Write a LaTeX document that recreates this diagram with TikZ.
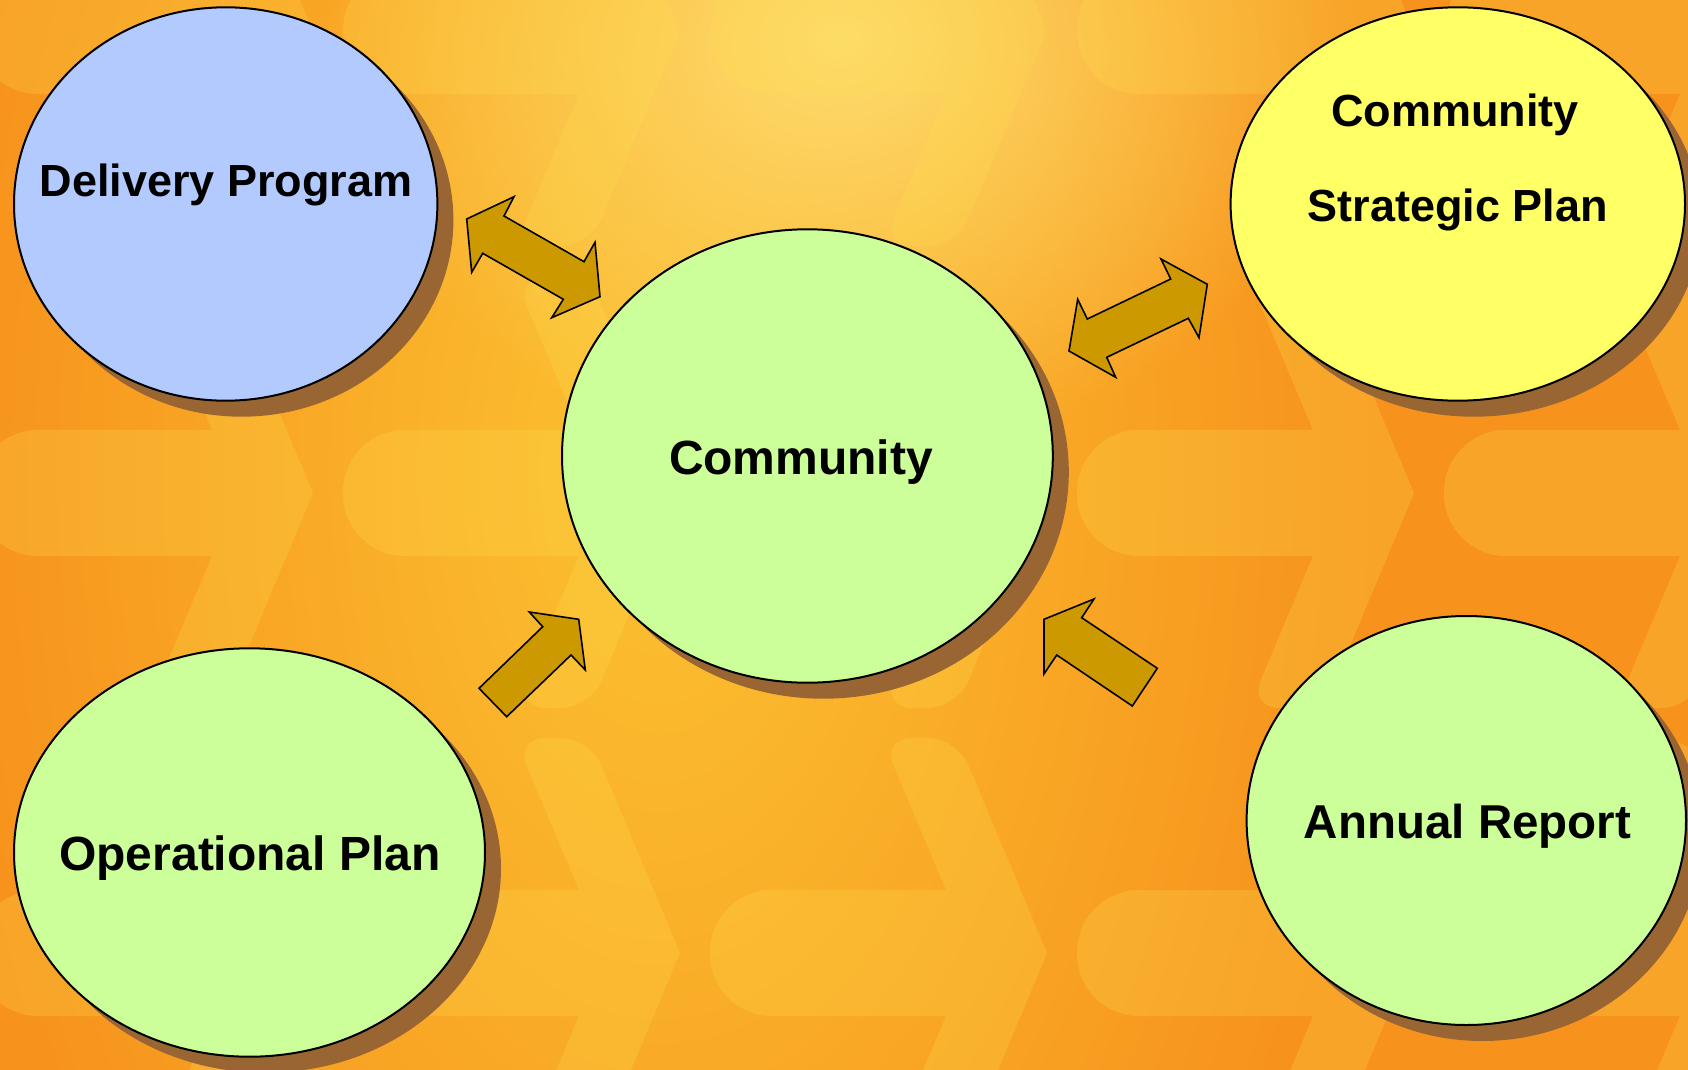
\documentclass[tikz,border=0pt]{standalone}
\usepackage{fontspec}
\setmainfont{Liberation Sans}
\usetikzlibrary{shapes.geometric,shadows,fadings}
\definecolor{bgbase}{HTML}{F7921C}
\definecolor{glowa}{HTML}{FCC232}
\definecolor{glowb}{HTML}{FEDC6E}
\definecolor{patc}{HTML}{FFE050}
\definecolor{blueb}{HTML}{B3CAFF}
\definecolor{greenb}{HTML}{CCFF99}
\definecolor{yellowb}{HTML}{FFFF66}
\definecolor{shadowc}{HTML}{996633}
\definecolor{arrowc}{HTML}{CC9900}
\tikzfading[name=glowfade, inner color=transparent!0, outer color=transparent!100]
\newcommand{\chevunit}[2]{%
  \fill[patc, fill opacity=0.24] ({#1-300},{#2-63}) -- ({#1-101},{#2-63})
    [rounded corners=30] -- ({#1-165},{#2-215}) -- ({#1-90},{#2-215})
    [sharp corners] -- (#1,#2)
    [rounded corners=30] -- ({#1-90},{#2+215}) -- ({#1-165},{#2+215})
    [sharp corners] -- ({#1-101},{#2+63})
    [rounded corners=62] -- ({#1-337},{#2+63}) -- ({#1-337},{#2-63}) -- cycle;}
\tikzset{
  blob/.style={ellipse, draw=black, line width=2pt, inner sep=0pt,
    drop shadow={shadow xshift=16pt, shadow yshift=-16pt, fill=shadowc, opacity=1}},
  lbl/.style={anchor=base, inner sep=0pt, font=\fontsize{45}{54}\selectfont\bfseries},
  biglbl/.style={lbl, font=\fontsize{48}{58}\selectfont\bfseries},
  blockarrow/.style={fill=arrowc, draw=black, line width=1.6pt, line join=miter}
}
\begin{document}
\begin{tikzpicture}[x=1pt, y=-1pt]
\useasboundingbox (0,0) rectangle (1688,1070);
% background
\begin{scope}
\clip (0,0) rectangle (1688,1070);
\fill[bgbase] (0,0) rectangle (1688,1070);
\fill[glowa, path fading=glowfade] (660,470) ellipse [x radius=720pt, y radius=1250pt];
\fill[glowb, path fading=glowfade] (840,40) ellipse [x radius=520pt, y radius=420pt];
\foreach \yc in {31,493,953}{
  \foreach \T in {-54,313,680,1047,1414,1781}{
    \chevunit{\T}{\yc}
  }
}
\end{scope}
% ellipses
\node[blob, fill=blueb, minimum width=423.4pt, minimum height=393.4pt] (dp) at (225.7,204) {};
\node[blob, fill=greenb, minimum width=490.8pt, minimum height=453.4pt] (co) at (807.4,456) {};
\node[blob, fill=yellowb, minimum width=454.4pt, minimum height=393.4pt] (csp) at (1457.8,204) {};
\node[blob, fill=greenb, minimum width=471pt, minimum height=408.4pt] (op) at (249.5,852.5) {};
\node[blob, fill=greenb, minimum width=439.4pt, minimum height=409pt] (ar) at (1466.3,820.5) {};
% labels
\node[lbl] (dpt) at (226,196) {Delivery Program};
\node[biglbl] (cot) at (801,474) {Community};
\node[lbl] (cspa) at (1455,126.7) {Community};
\node[lbl] (cspb) at (1457.8,221.7) {Strategic Plan};
\node[biglbl] (opt) at (250,870) {Operational Plan};
\node[lbl, font=\fontsize{47.5}{57}\selectfont\bfseries] (art) at (1467.5,838.3) {Annual Report};
% block arrows
\draw[blockarrow] (466.7,219) -- (514,196.7) -- (504,216) -- (584,261.7) -- (595,242.3) -- (600,296.7) -- (551.7,317.7) -- (563.3,299.3) -- (482.7,253.3) -- (471.7,272.3) -- cycle;
\draw[blockarrow] (1069,351) -- (1077.7,299.3) -- (1087.3,319) -- (1170.7,279) -- (1161,259) -- (1207.3,284.3) -- (1199,337.7) -- (1188.3,318.3) -- (1106.7,357.3) -- (1115.7,377.3) -- cycle;
\draw[blockarrow] (479,688.3) -- (542.7,626.7) -- (529.3,612) -- (578.7,619.3) -- (585.3,670) -- (571,655) -- (506.7,716.7) -- cycle;
\draw[blockarrow] (1044,619.3) -- (1094,599) -- (1081.7,617.7) -- (1157.3,668.3) -- (1132.3,706) -- (1056.7,655) -- (1044,674) -- cycle;
\end{tikzpicture}
\end{document}
